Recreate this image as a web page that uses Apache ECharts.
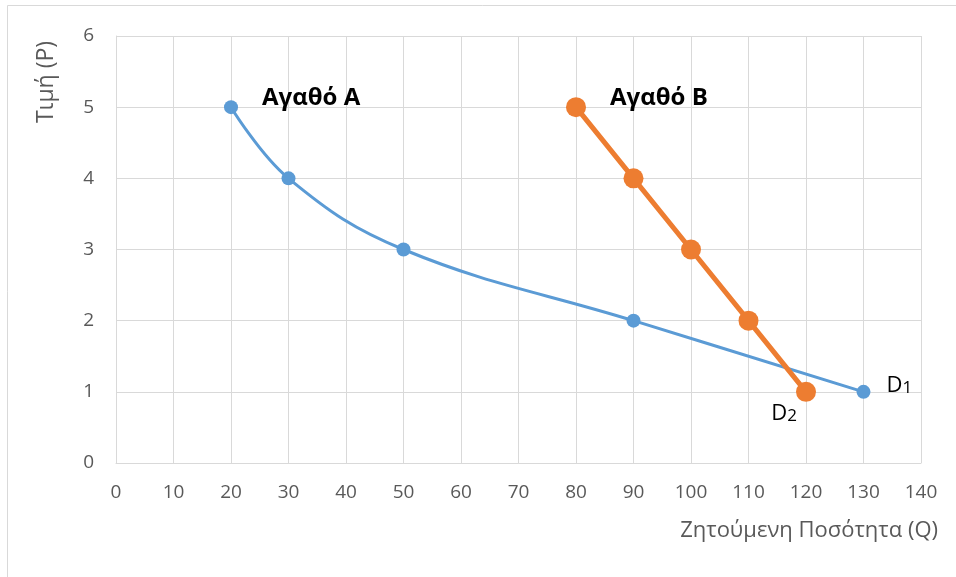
<!DOCTYPE html>
<html>
<head>
<meta charset="utf-8">
<script src="https://cdn.jsdelivr.net/npm/echarts@6/dist/echarts.min.js"></script>
<style>
  html, body { margin: 0; padding: 0; background: #fff; }
  #chart { width: 956px; height: 577px; }
</style>
</head>
<body>
<div id="chart"></div>
<script>
// Αγαθό Α (D1) και Αγαθό Β (D2): [ποσότητα, τιμή]
const goodA = [[20, 5], [30, 4], [50, 3], [90, 2], [130, 1]];
const goodB = [[80, 5], [90, 4], [100, 3], [110, 2], [120, 1]];
const nameA = "Αγαθό Α";
const nameB = "Αγαθό Β";
const xTitle = "Ζητούμενη Ποσότητα (Q)";
const yTitle = "Τιμή (P)";

const font = "'Open Sans', 'Noto Sans', sans-serif";
const grey = "#595959";
const gridCol = "#d9d9d9";

let chart = echarts.init(document.getElementById("chart"));

function pointLabels(data, first, last) {
  return data.map((d, i) => {
    if (i === 0) return { value: d, label: first };
    if (i === data.length - 1) return { value: d, label: last };
    return d;
  });
}

function dLabel(n) {
  return {
    formatter: "{a|D}{b|" + n + "}",
    rich: {
      a: { fontSize: 22, color: "#000", fontFamily: font, lineHeight: 24, verticalAlign: "bottom" },
      b: { fontSize: 17, color: "#000", fontFamily: font, lineHeight: 21, verticalAlign: "bottom" }
    }
  };
}

let option = {
  animation: false,
  backgroundColor: "#fff",
  grid: { left: 116, right: 35, top: 36, bottom: 114 },
  graphic: [
    {
      type: "rect",
      shape: { x: 7.5, y: 5.5, width: 1000, height: 1000 },
      style: { fill: "none", stroke: gridCol, lineWidth: 1 },
      silent: true
    },
    {
      type: "text",
      x: 938, y: 531,
      style: {
        text: xTitle, font: "22px " + font, fill: grey,
        align: "right", verticalAlign: "middle"
      }
    },
    {
      type: "text",
      x: 46, y: 82, rotation: Math.PI / 2,
      style: {
        text: yTitle, font: "23px " + font, fill: grey,
        align: "center", verticalAlign: "middle"
      }
    }
  ],
  xAxis: {
    type: "value",
    min: 0, max: 140, interval: 10,
    axisLine: { show: true, lineStyle: { color: gridCol } },
    axisTick: { show: false },
    axisLabel: { color: grey, fontSize: 19, fontFamily: font, margin: 20 },
    splitLine: { show: true, lineStyle: { color: gridCol } }
  },
  yAxis: {
    type: "value",
    min: 0, max: 6, interval: 1,
    axisLine: { show: true, lineStyle: { color: gridCol } },
    axisTick: { show: false },
    axisLabel: { color: grey, fontSize: 19, fontFamily: font, margin: 22 },
    splitLine: { show: true, lineStyle: { color: gridCol } }
  },
  series: [
    {
      name: nameA,
      type: "line",
      smooth: 0.4,
      data: pointLabels(goodA,
        {
          show: true, position: "right", distance: 24, offset: [0, -9],
          formatter: nameA, color: "#000", fontSize: 24, fontWeight: "bold", fontFamily: font
        },
        Object.assign({ show: true, position: "right", distance: 16, offset: [0, -7] }, dLabel(1))),
      symbol: "circle",
      symbolSize: 14,
      lineStyle: { color: "#5B9BD5", width: 3 },
      itemStyle: { color: "#5B9BD5" },
      z: 2
    },
    {
      name: nameB,
      type: "line",
      data: pointLabels(goodB,
        {
          show: true, position: "right", distance: 24, offset: [0, -9],
          formatter: nameB, color: "#000", fontSize: 24, fontWeight: "bold", fontFamily: font
        },
        Object.assign({ show: true, position: "left", distance: 0, offset: [1, 21] }, dLabel(2))),
      symbol: "circle",
      symbolSize: 20,
      lineStyle: { color: "#ED7D31", width: 5 },
      itemStyle: { color: "#ED7D31" },
      z: 3
    }
  ]
};

chart.setOption(option);
</script>
</body>
</html>
